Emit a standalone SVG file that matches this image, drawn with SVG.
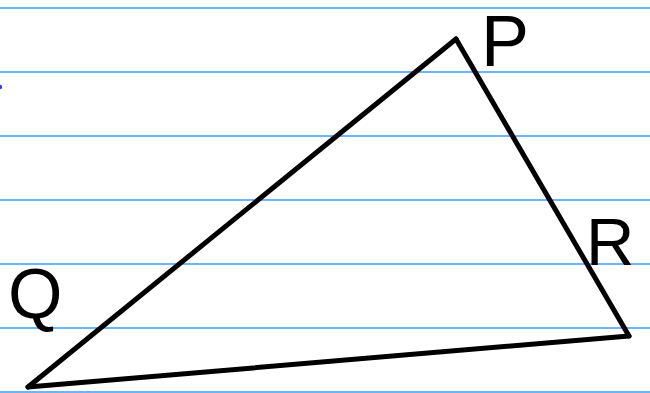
<svg xmlns="http://www.w3.org/2000/svg" width="650" height="393" viewBox="0 0 650 393">
  <style>
    .rule { stroke: #3d9bf5; stroke-width: 1.5; }
    .edge { stroke: #000; stroke-width: 5; stroke-linecap: round; stroke-linejoin: round; fill: none; }
    .lbl { font-family: "Liberation Sans", Arial, sans-serif; fill: #000; }
  </style>
  <rect x="0" y="0" width="650" height="393" fill="#fff"/>
  <g id="paper">
    <line class="rule" x1="0" y1="8" x2="650" y2="8"/>
    <line class="rule" x1="0" y1="72" x2="650" y2="72"/>
    <line class="rule" x1="0" y1="136" x2="650" y2="136"/>
    <line class="rule" x1="0" y1="200" x2="650" y2="200"/>
    <line class="rule" x1="0" y1="264" x2="650" y2="264"/>
    <line class="rule" x1="0" y1="328" x2="650" y2="328"/>
    <line class="rule" x1="0" y1="392" x2="650" y2="392"/>
    <circle cx="0" cy="87" r="2.2" fill="#3a3ae6"/>
  </g>
  <g id="connectors">
    <line class="edge" x1="456" y1="39" x2="629" y2="336"/>
    <line class="edge" x1="629" y1="336" x2="28" y2="387"/>
    <line class="edge" x1="28" y1="387" x2="456" y2="39"/>
  </g>
  <g id="node-P">
    <text class="lbl" x="481" y="66" font-size="72">P</text>
  </g>
  <g id="node-Q">
    <text class="lbl" x="8" y="318" font-size="70">Q</text>
  </g>
  <g id="node-R">
    <text class="lbl" x="586" y="265" font-size="67">R</text>
  </g>
</svg>
